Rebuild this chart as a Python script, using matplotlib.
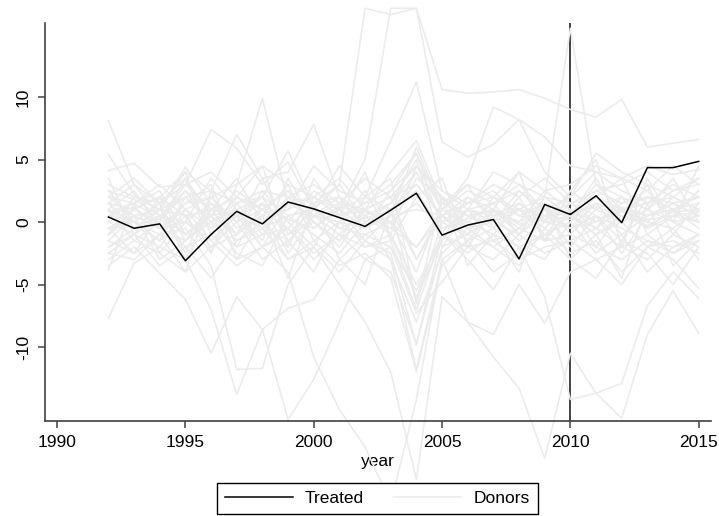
import matplotlib
matplotlib.use("Agg")
import matplotlib.pyplot as plt
from matplotlib.lines import Line2D
import numpy as np

plt.rcParams["font.family"] = ["Liberation Sans", "DejaVu Sans"]

years = np.arange(1992, 2016)
treat_year = 2010

treated = [0.4, -0.5, -0.15, -3.1, -1.0, 0.85, -0.15, 1.6, 1.05, 0.35, -0.35,
           0.95, 2.3, -1.05, -0.25, 0.2, -2.95, 1.4, 0.6, 2.1, -0.05, 4.35,
           4.35, 4.85]

donors = [
    [8.1, 3.0, 1.5, 3.5, 0.5, -1.0, 1.0, 0.2, -0.5, 1.2, 0.8, 0.0, 1.5, -0.5, 0.3, 1.0, -0.2, 0.5, 0.8, 1.2, 0.5, -0.3, 0.8, 1.0],
    [5.4, 2.2, 1.0, 4.4, 1.5, 0.5, 2.0, 5.7, 1.2, -0.5, 0.3, 0.8, 2.5, -0.8, 1.0, 0.5, 1.5, 0.2, 1.0, 0.0, 1.2, 0.5, 1.5, 2.0],
    [4.1, 4.7, 2.8, 3.0, 7.4, 5.9, 3.0, 4.8, 1.0, 0.5, 1.0, 2.0, 3.0, 0.5, 1.5, 2.0, 1.0, 0.5, 0.2, 2.5, 1.5, 2.0, 1.0, 1.5],
    [2.5, 1.8, 0.5, 2.0, 2.5, 7.0, 3.5, 4.0, 7.8, 2.0, 0.5, 1.5, 4.0, 0.0, 1.0, 1.5, 2.5, 1.0, 0.5, 3.0, 2.0, 1.0, 2.5, 3.0],
    [2.0, 0.5, -0.5, 1.0, 2.0, 3.0, 9.9, 1.5, 0.5, 1.0, -0.5, 0.5, 1.0, 0.5, -0.5, 0.8, 0.0, 1.0, 0.4, 1.5, 0.8, 0.2, 0.5, 0.8],
    [1.5, 1.0, 2.0, 0.5, 1.0, 0.5, 0.0, 2.0, 1.5, 3.0, 17.1, 16.6, 17.1, 10.6, 10.3, 10.4, 10.6, 9.9, 9.0, 8.4, 9.8, 6.0, 6.3, 6.6],
    [0.8, 1.5, 0.2, 3.0, 1.0, 2.0, 0.5, 1.0, 2.0, 1.0, 5.0, 17.1, 17.1, 6.4, 5.2, 6.2, 8.2, 6.8, 4.5, 4.0, 3.5, 4.5, 3.8, 4.2],
    [1.0, -0.5, 1.0, 2.0, 0.0, 1.5, 2.0, 0.5, 1.0, 4.5, 2.0, 6.5, 11.2, 2.5, 1.0, 4.0, 3.0, 2.0, 1.5, 2.0, 1.0, 1.5, 2.0, 1.0],
    [0.5, 1.2, -0.5, 1.5, 2.0, 0.0, 1.0, 2.5, 0.5, 1.5, 0.0, 1.0, 3.0, 0.5, 2.0, 1.0, -1.0, 2.0, 15.5, 3.0, 1.0, 0.5, 1.5, 0.5],
    [-0.5, 0.5, 1.0, -1.0, 0.5, 1.0, -0.5, 1.5, 2.0, 0.5, 1.5, 2.5, 4.5, 1.0, 3.5, 9.2, 8.2, 4.0, 2.0, 5.5, 4.0, 3.0, 2.0, 3.5],
    [-7.7, -3.3, -2.0, 1.0, -1.5, 0.5, -2.0, -1.0, 0.0, -1.5, 0.5, -0.5, -2.0, 1.0, -0.5, 0.0, -1.0, 0.5, -0.5, 0.0, 1.0, -0.5, 0.5, 0.0],
    [-3.5, -2.0, -4.1, -6.2, -10.5, -6.0, -8.6, -6.9, -6.2, -3.0, -1.0, -2.0, -7.3, -4.8, -2.0, -1.5, -3.0, -2.0, -1.5, -3.0, -2.0, -1.0, -2.5, -1.5],
    [-2.5, -1.0, -2.0, -3.0, -7.0, -13.8, -8.6, -15.8, -12.6, -8.0, -3.0, -4.0, -9.8, -2.0, -1.0, -2.0, -0.5, -1.5, -1.0, -2.0, -3.0, -1.5, -2.0, -1.0],
    [-1.5, -2.5, -1.0, -0.5, -3.5, -11.8, -11.7, -5.0, -2.0, -4.0, -1.5, -3.0, -11.8, -3.0, -8.0, -9.0, -5.0, -8.1, -4.0, -3.0, -5.0, -2.0, -3.0, -5.3],
    [0.0, -1.0, 0.5, -2.0, -1.0, -3.0, -2.0, -4.0, -10.8, -15.0, -18.0, -22.5, -14.2, -3.0, -1.5, -0.5, -2.0, -1.0, 0.5, -1.0, 0.0, -2.0, -1.5, -2.5],
    [1.0, 0.0, -1.5, 0.5, -2.0, -1.0, 0.5, -3.0, -2.0, -5.0, -8.0, -12.0, -20.6, -6.0, -8.0, -10.8, -13.3, -18.9, -10.5, -13.7, -15.7, -9.0, -5.5, -8.9],
    [-1.0, 0.5, -0.5, -1.5, 0.0, -2.0, -1.0, -0.5, -3.0, -1.0, -2.0, -1.5, -7.0, -1.0, -3.0, -5.4, -2.0, -6.0, -14.2, -13.7, -12.9, -6.7, -4.0, -6.1],
    [2.0, 1.5, 2.5, -1.0, 0.5, 2.5, 1.0, -0.5, 1.5, 2.0, 0.5, -1.0, 4.5, 2.0, 0.5, 1.0, -0.5, 1.5, 0.5, -0.5, 1.0, 2.0, 1.5, 0.5],
    [1.0, -1.5, 0.0, 3.5, -1.0, 1.0, -2.0, 1.5, 0.5, -1.0, 1.0, 2.0, -3.0, 1.0, 0.0, -1.0, 1.5, 0.0, -0.5, 1.5, -1.0, 0.5, 1.0, -0.5],
    [-1.0, 2.0, 1.5, -2.5, 2.0, -0.5, 0.5, 3.0, -1.5, 0.0, 2.5, -1.0, -5.0, -1.5, 2.0, 0.5, 1.0, -1.0, 0.0, 2.0, 3.5, -1.0, 0.5, 2.5],
    [0.5, 0.0, -1.0, 1.5, 3.0, -2.0, 1.5, 0.0, 2.5, 1.0, -1.5, 0.5, 4.0, 0.0, -1.0, 2.0, 0.5, 1.5, -1.0, 1.0, 0.0, 3.0, -1.0, 1.5],
    [-2.0, -0.5, 1.0, 0.5, -2.5, 1.5, -1.0, 2.0, 0.0, -2.0, 1.0, 0.0, -4.0, 1.5, 0.5, -0.5, 2.0, -1.5, 1.0, -0.5, 2.0, 1.0, 0.0, 0.5],
    [1.5, 3.0, 0.5, 2.5, 1.0, 3.5, 0.0, 1.0, 4.5, 2.5, 1.5, 3.0, 5.5, 1.0, 2.5, 1.5, 3.0, 1.0, 2.0, 4.0, 2.5, 1.5, 3.0, 2.0],
    [-3.0, -1.5, -2.5, 0.0, -1.5, -3.5, -2.0, -0.5, -2.5, -1.0, -3.0, -2.0, -5.5, -1.0, -2.0, -3.0, -1.0, -2.5, -1.5, -0.5, -2.0, -3.0, -1.0, -2.0],
    [0.0, 1.0, 2.0, -1.5, 1.5, 0.0, 3.5, -1.0, 1.0, 3.0, 0.0, 1.5, 5.0, -2.0, 1.0, 0.0, 2.5, 0.5, 1.5, 0.5, -1.5, 2.0, 1.0, 0.0],
    [2.5, 0.0, -1.5, 2.0, 0.0, 1.0, -1.5, 3.5, 0.0, -1.5, 2.0, 1.0, -3.0, 0.5, -1.5, 1.0, 0.0, 2.5, 1.0, -2.0, 1.0, 0.0, 2.0, 1.0],
    [-0.5, -2.5, 0.5, -1.0, 1.0, -1.5, 0.0, -2.0, 2.0, 0.5, -2.0, -1.0, -6.0, -1.5, 1.0, -1.5, -0.5, 1.0, -2.0, 0.5, -0.5, -1.5, -2.5, -1.0],
    [3.0, 2.0, 1.0, 4.0, 2.5, 1.5, 2.5, 2.0, 3.0, 1.5, 3.5, 2.0, 4.5, 2.5, 1.5, 3.0, 2.0, 3.5, 1.5, 2.5, 3.0, 4.0, 2.5, 3.5],
    [-1.5, 0.5, -3.0, -1.5, 0.5, -2.5, -3.5, 0.5, -1.0, -2.5, 0.0, -3.0, -8.0, -2.5, -0.5, -2.0, -3.5, -0.5, -2.5, -1.5, -4.0, -2.0, -0.5, -3.0],
    [1.0, 2.5, -0.5, 0.0, 3.5, 1.0, 2.0, -1.5, 0.5, 2.0, -0.5, 0.5, 6.0, 1.0, 3.0, -0.5, 1.0, 2.0, 0.5, 3.5, 0.0, 1.0, 3.5, 0.0],
    [-2.5, -3.0, -1.0, -4.0, -2.0, 0.0, -3.0, -1.5, -4.0, 0.0, -1.5, -2.5, -9.8, -1.0, -2.5, -1.0, -2.0, -3.0, 0.0, -2.5, -1.0, -4.0, -2.0, -1.5],
    [0.5, 1.5, 3.0, 1.0, -0.5, 2.0, 1.0, 2.5, -0.5, 1.0, 2.0, 3.5, -6.5, 0.0, 1.5, 2.5, 0.5, 0.0, 2.5, 1.0, 2.0, -0.5, 1.0, 2.0],
    [-0.5, 0.0, 1.5, -3.0, 1.0, 0.5, -0.5, 0.5, 1.0, -0.5, -1.0, 0.0, -2.0, 0.5, -1.0, 0.5, -1.5, 0.0, 0.5, -1.0, 0.5, 0.0, -0.5, 1.0],
    [1.5, -0.5, 0.5, 0.0, 1.5, -1.0, 2.5, 0.0, -2.0, 1.5, 1.0, -0.5, 3.5, 2.0, -0.5, 0.0, 1.0, -0.5, 1.5, 0.0, 1.5, 2.5, 0.0, -1.0],
    [-1.0, 1.0, 0.0, 2.5, -0.5, 0.5, 1.5, -2.5, 0.5, 0.0, -0.5, 2.5, 5.5, -0.5, 0.0, 1.5, -1.0, 1.0, -0.5, 0.5, -2.5, 0.5, 1.5, 0.5],
    [2.0, 3.5, 1.5, 3.0, 4.0, 2.0, 4.5, 3.0, 2.0, 3.5, 1.0, 4.0, 6.5, 1.5, 3.0, 2.0, 4.0, 2.5, 3.0, 4.5, 3.5, 2.5, 4.5, 3.0],
    [-2.0, -1.0, -3.5, -2.0, -4.5, -1.5, -0.5, -3.0, -1.5, -3.5, -2.5, -4.5, -12.0, -3.5, -1.5, -4.0, -2.5, -1.0, -3.0, -4.5, -1.5, -2.5, -5.0, -2.0],
    [3.5, -1.0, 2.0, 4.0, -2.5, 3.0, 4.5, -2.0, 3.5, 0.5, 4.0, -1.5, 2.0, 3.5, -2.0, 1.0, 4.0, -1.5, 2.5, 5.0, -2.0, 3.5, 0.0, 4.5],
    [-3.8, 1.5, -2.5, -4.0, 2.5, -3.0, 0.5, -4.5, 1.5, -3.0, -5.0, 1.0, -6.5, 2.0, -3.5, -1.0, -4.0, 1.5, -3.0, -1.0, -4.5, 1.5, -3.5, -1.5],
]

xticks = [1990, 1995, 2000, 2005, 2010, 2015]
yticks = [-10, -5, 0, 5, 10]

donor_color = "#ebebeb"
axis_color = "#404040"

fig = plt.figure(figsize=(7.19, 5.16), dpi=100)
ax = fig.add_axes([0.0626, 0.1841, 0.9263, 0.7713])

# reference line at the treatment year, under the donor lines
ax.axvline(treat_year, color="#222222", lw=1.2, zorder=1)
for d in donors:
    ax.plot(years, d, color=donor_color, lw=1.15, zorder=2, clip_on=False)
ax.plot(years, treated, color="black", lw=1.1, zorder=3)

ax.set_xlim(1989.53, 2015.48)
ax.set_ylim(-15.92, 15.92)
ax.set_xticks(xticks)
ax.set_yticks(yticks)
ax.set_yticklabels([str(v) for v in yticks], rotation=90, va="center")

for side in ("top", "right"):
    ax.spines[side].set_visible(False)
for side in ("left", "bottom"):
    ax.spines[side].set_color(axis_color)
    ax.spines[side].set_linewidth(1.2)
    ax.spines[side].set_zorder(4)
ax.tick_params(direction="out", length=5, width=1.1, color=axis_color,
               labelsize=12.5, pad=5)
ax.set_xlabel("year", fontsize=12.5, labelpad=3)

handles = [Line2D([], [], color="black", lw=1.1),
           Line2D([], [], color=donor_color, lw=1.15)]
leg = fig.legend(handles, ["Treated", "Donors"], loc="center",
                 bbox_to_anchor=(0.525, 0.034), ncol=2, fontsize=12.5,
                 frameon=True, fancybox=False, edgecolor="black",
                 framealpha=1, handlelength=3.9, handletextpad=0.7,
                 columnspacing=1.7, borderpad=0.45)
leg.get_frame().set_linewidth(1.0)

fig.savefig("out.png", dpi=100)
